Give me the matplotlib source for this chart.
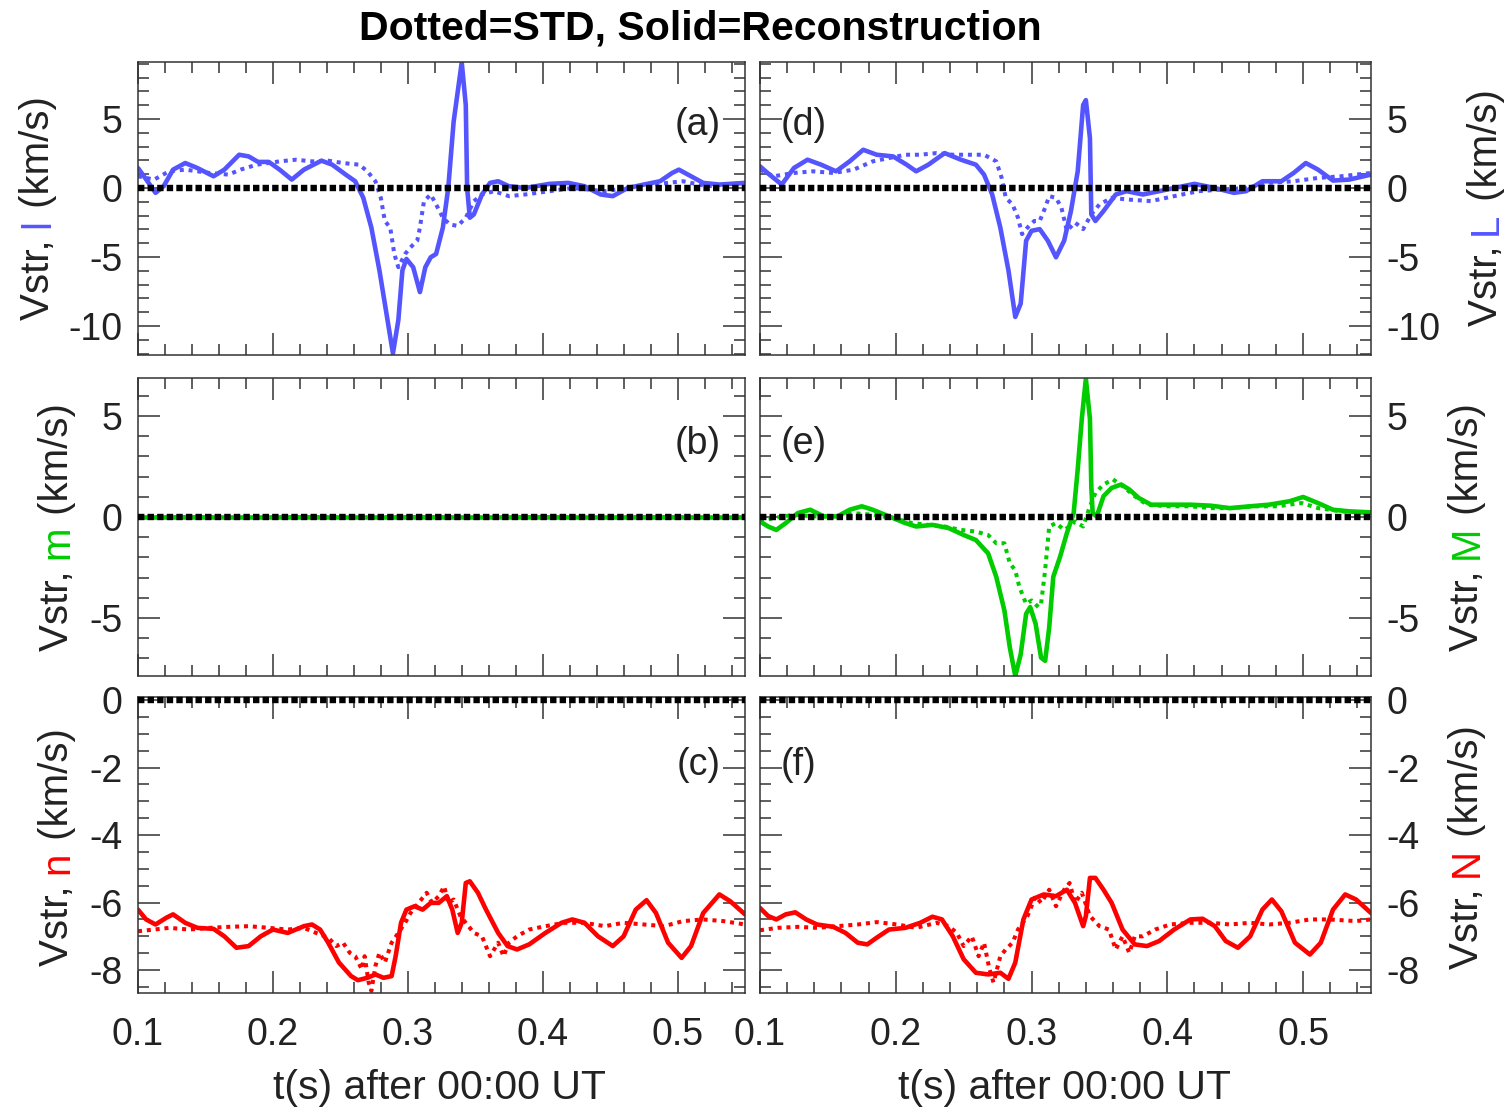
import matplotlib
matplotlib.use("Agg")
import matplotlib.pyplot as plt
from matplotlib.ticker import MultipleLocator

plt.rcParams['font.family'] = ['Liberation Sans', 'DejaVu Sans']
plt.rcParams['axes.unicode_minus'] = False

# ---------------- data ----------------
# (a) l component
t_a_sol = [.100, .107, .113, .119, .126, .135, .144, .156, .164, .175, .182, .189, .197, .205, .214, .223,
           .236, .244, .254, .261, .267, .273, .279, .285, .289, .293, .296, .299, .304, .309, .313, .317,
           .321, .326, .330, .334, .340, .343, .344, .346, .349, .355, .361, .367, .375, .387, .405, .419,
           .431, .443, .452, .463, .475, .487, .496, .501, .510, .519, .531, .550]
v_a_sol = [1.45, 0.49, -0.35, 0.13, 1.33, 1.81, 1.45, 0.85, 1.33, 2.41, 2.29, 1.89, 1.89, 1.33, 0.61, 1.33,
           1.98, 1.69, 0.97, 0.49, -0.71, -2.87, -5.98, -9.58, -11.98, -9.58, -5.98, -5.14, -5.74, -7.54, -5.74, -5.02,
           -4.78, -2.87, 0.0, 4.81, 9.1, 6.01, 0.0, -2.15, -1.91, -0.47, 0.37, 0.49, 0.13, 0.0, 0.30, 0.37,
           0.13, -0.47, -0.59, 0.0, 0.25, 0.49, 1.09, 1.33, 0.85, 0.37, 0.25, 0.37]
t_a_std = [.100, .112, .123, .135, .153, .167, .176, .188, .205, .217, .229, .241, .252, .264, .270, .276,
           .280, .283, .287, .290, .293, .298, .302, .307, .309, .312, .317, .321, .326, .331, .337, .343,
           .349, .355, .364, .375, .387, .405, .422, .446, .463, .481, .504, .522, .550]
v_a_std = [0.85, 0.61, 1.21, 1.33, 1.09, 0.97, 1.33, 1.69, 1.93, 2.05, 1.93, 1.98, 1.81, 1.69, 1.21, 0.49,
           -0.71, -2.39, -2.87, -4.78, -5.74, -4.78, -4.30, -3.82, -2.87, -0.95, -0.47, -1.19, -2.15, -2.63, -2.75, -2.15,
           -0.95, -0.47, -0.23, -0.59, -0.47, -0.23, 0.0, -0.23, 0.0, 0.25, 0.49, 0.13, 0.37]

# (d) L component
t_d_sol = [.100, .107, .116, .125, .135, .145, .156, .166, .176, .186, .198, .208, .215, .224, .236, .248,
           .259, .265, .271, .277, .283, .288, .292, .296, .300, .306, .312, .318, .324, .329, .334, .338,
           .340, .343, .344, .347, .353, .362, .370, .382, .394, .405, .420, .435, .449, .458, .470, .484,
           .493, .502, .511, .522, .534, .550]
v_d_sol = [1.57, 0.97, 0.25, 1.45, 2.05, 1.69, 1.21, 1.93, 2.77, 2.41, 2.29, 1.69, 1.21, 1.69, 2.53, 2.05,
           1.69, 0.97, -0.47, -2.87, -5.98, -9.34, -8.38, -3.82, -3.10, -2.98, -3.82, -5.02, -3.82, -1.67, 1.21, 6.01,
           6.37, 3.61, -1.91, -2.39, -1.67, -0.47, -0.23, -0.47, -0.23, 0.0, 0.30, 0.0, -0.35, -0.23, 0.49, 0.49,
           1.09, 1.81, 1.33, 0.54, 0.61, 0.97]
t_d_std = [.100, .110, .125, .139, .154, .169, .183, .195, .207, .218, .230, .242, .253, .265, .274, .278,
           .281, .286, .290, .293, .297, .302, .306, .310, .313, .318, .322, .326, .332, .338, .344, .350,
           .359, .370, .388, .405, .423, .440, .458, .475, .493, .511, .528, .550]
v_d_std = [1.33, 0.85, 1.09, 1.21, 1.09, 1.33, 1.93, 2.17, 2.41, 2.41, 2.53, 2.41, 2.41, 2.41, 1.93, 0.73,
           -0.71, -1.19, -2.15, -3.34, -2.87, -2.39, -2.39, -1.43, -0.59, -0.71, -1.43, -3.10, -2.50, -2.98, -1.91, -1.19,
           -0.71, -0.83, -0.95, -0.59, -0.23, -0.11, 0.0, 0.37, 0.49, 0.73, 0.85, 1.09]

# (b) m component (zero)
t_b = [0.10, 0.55]
v_b = [0.0, 0.0]

# (e) M component
t_e_sol = [.100, .106, .112, .119, .128, .137, .147, .157, .166, .175, .183, .195, .207, .215, .227, .239,
           .250, .259, .268, .274, .280, .284, .288, .292, .296, .299, .303, .307, .310, .313, .316, .321,
           .326, .331, .334, .337, .340, .343, .344, .345, .348, .353, .359, .366, .372, .379, .388, .402,
           .417, .432, .446, .461, .475, .490, .500, .511, .522, .534, .550]
v_e_sol = [-0.22, -0.47, -0.64, -0.30, 0.20, 0.36, 0.03, 0.03, 0.36, 0.53, 0.36, 0.03, -0.30, -0.47, -0.39, -0.55,
           -0.89, -1.14, -1.80, -2.96, -4.63, -6.46, -7.87, -6.80, -4.79, -4.46, -5.29, -6.96, -7.12, -5.46, -2.96, -1.97,
           -0.80, 0.19, 2.36, 4.85, 6.85, 4.85, 1.52, 0.19, 0.03, 1.03, 1.44, 1.61, 1.36, 0.94, 0.61, 0.61,
           0.61, 0.56, 0.44, 0.53, 0.61, 0.78, 0.99, 0.69, 0.36, 0.28, 0.23]
t_e_std = [.100, .110, .125, .139, .154, .169, .183, .198, .212, .224, .236, .248, .259, .268, .274, .280,
           .284, .288, .291, .296, .300, .305, .307, .310, .313, .318, .324, .328, .332, .338, .343, .347,
           .353, .360, .367, .376, .385, .400, .417, .432, .446, .464, .481, .499, .511, .528, .550]
v_e_std = [-0.22, -0.05, 0.11, 0.03, 0.03, 0.19, 0.11, -0.05, -0.30, -0.39, -0.47, -0.64, -0.72, -0.89, -1.30, -1.30,
           -2.30, -2.63, -3.46, -4.30, -4.13, -4.46, -4.30, -2.63, -0.47, -0.30, -0.64, -0.47, -0.22, -0.47, 0.53, 1.19,
           1.61, 1.86, 1.53, 1.03, 0.61, 0.53, 0.53, 0.44, 0.44, 0.53, 0.53, 0.69, 0.44, 0.28, 0.19]

# (c) n component
t_c_sol = [.100, .106, .113, .121, .126, .135, .144, .156, .164, .173, .182, .191, .200, .211, .223, .229,
           .235, .241, .249, .258, .263, .270, .276, .282, .288, .291, .295, .299, .305, .311, .317, .323,
           .329, .333, .337, .340, .343, .346, .352, .358, .367, .374, .381, .390, .402, .414, .422, .431,
           .441, .452, .460, .469, .477, .484, .493, .503, .510, .519, .531, .539, .550]
v_c_sol = [-6.21, -6.50, -6.65, -6.45, -6.35, -6.60, -6.75, -6.78, -7.00, -7.34, -7.29, -7.00, -6.80, -6.90, -6.70, -6.65,
           -6.80, -7.19, -7.78, -8.18, -8.30, -8.23, -8.13, -8.23, -8.18, -7.59, -6.60, -6.21, -6.11, -6.21, -6.01, -6.01,
           -5.81, -6.21, -6.90, -6.60, -5.42, -5.37, -5.71, -6.21, -6.90, -7.29, -7.39, -7.24, -6.90, -6.60, -6.50, -6.60,
           -7.00, -7.29, -7.00, -6.21, -5.93, -6.31, -7.19, -7.64, -7.29, -6.31, -5.76, -5.96, -6.35]
t_c_std = [.100, .112, .123, .138, .153, .167, .182, .197, .211, .223, .232, .241, .247, .252, .257, .261,
           .266, .268, .271, .273, .276, .279, .283, .288, .293, .298, .302, .308, .314, .318, .323, .327,
           .330, .334, .339, .343, .349, .355, .361, .367, .371, .375, .381, .390, .402, .416, .431, .446,
           .460, .475, .490, .504, .519, .534, .550]
v_c_std = [-6.85, -6.80, -6.75, -6.80, -6.75, -6.72, -6.70, -6.75, -6.80, -6.75, -6.90, -7.04, -7.29, -7.19, -7.49, -7.59,
           -7.98, -7.59, -8.37, -8.62, -7.88, -7.49, -7.78, -7.19, -6.90, -6.60, -6.31, -6.01, -5.71, -6.01, -5.81, -5.52,
           -6.01, -5.91, -6.40, -6.60, -6.90, -7.00, -7.59, -7.19, -7.59, -7.19, -7.00, -6.80, -6.70, -6.60, -6.60, -6.70,
           -6.60, -6.65, -6.70, -6.55, -6.50, -6.55, -6.65]

# (f) N component
t_f_sol = [.100, .106, .112, .119, .126, .134, .142, .154, .163, .172, .179, .186, .195, .207, .218, .227,
           .234, .242, .250, .259, .268, .277, .283, .288, .294, .300, .309, .318, .326, .332, .338, .340,
           .343, .347, .353, .359, .367, .376, .385, .394, .405, .417, .426, .435, .443, .452, .461, .470,
           .477, .484, .494, .505, .513, .522, .531, .539, .550]
v_f_sol = [-6.16, -6.40, -6.50, -6.35, -6.29, -6.50, -6.65, -6.72, -6.90, -7.19, -7.24, -7.04, -6.80, -6.75, -6.60, -6.42,
           -6.50, -7.00, -7.68, -8.08, -8.13, -8.08, -8.26, -7.78, -6.50, -5.91, -5.76, -5.81, -5.62, -6.01, -6.70, -6.40,
           -5.27, -5.27, -5.62, -6.01, -6.80, -7.24, -7.29, -7.14, -6.80, -6.50, -6.48, -6.70, -7.14, -7.34, -7.00, -6.21,
           -5.91, -6.26, -7.19, -7.54, -7.19, -6.21, -5.76, -5.91, -6.31]
t_f_std = [.100, .113, .128, .142, .157, .172, .186, .201, .215, .230, .239, .245, .250, .256, .261, .265,
           .269, .272, .277, .281, .286, .290, .297, .303, .307, .313, .318, .324, .328, .332, .337, .343,
           .350, .357, .362, .367, .372, .376, .382, .391, .402, .417, .432, .446, .461, .475, .490, .505,
           .519, .539, .550]
v_f_std = [-6.82, -6.75, -6.72, -6.75, -6.70, -6.65, -6.58, -6.65, -6.75, -6.60, -6.70, -6.90, -7.29, -7.00, -7.59, -7.19,
           -7.98, -8.37, -7.59, -7.39, -7.19, -6.80, -6.40, -5.81, -6.01, -5.62, -6.11, -5.62, -5.42, -6.01, -5.71, -6.40,
           -6.70, -6.80, -7.39, -7.00, -7.49, -7.00, -7.00, -6.80, -6.65, -6.60, -6.60, -6.65, -6.60, -6.65, -6.60, -6.50,
           -6.50, -6.55, -6.50]

BLUE = '#5555ff'
GREEN = '#00cc00'
RED = '#ff0000'
DARK = '#222222'

W, H = 1507, 1112
fig = plt.figure(figsize=(W / 100, H / 100), dpi=100)


def px_axes(x0, y0, x1, y1):
    return fig.add_axes([x0 / W, 1 - y1 / H, (x1 - x0) / W, (y1 - y0) / H])


rows = [(62, 355), (378, 676), (697, 993)]
cols = [(138, 745), (760, 1371)]

panels = [
    # (row, col, tsol, vsol, tstd, vstd, color, tag)
    (0, 0, t_a_sol, v_a_sol, t_a_std, v_a_std, BLUE, '(a)'),
    (1, 0, t_b, v_b, t_b, v_b, GREEN, '(b)'),
    (2, 0, t_c_sol, v_c_sol, t_c_std, v_c_std, RED, '(c)'),
    (0, 1, t_d_sol, v_d_sol, t_d_std, v_d_std, BLUE, '(d)'),
    (1, 1, t_e_sol, v_e_sol, t_e_std, v_e_std, GREEN, '(e)'),
    (2, 1, t_f_sol, v_f_sol, t_f_std, v_f_std, RED, '(f)'),
]
ylims = [(-12.1, 9.13), (-7.87, 6.88), (-8.68, 0.09)]
ymajor = [5, 5, 2]
yminor = [1, 1, 0.5]
tagy = [0.785, 0.78, 0.77]

for r, c, ts, vs, td, vd, col, tag in panels:
    ax = px_axes(cols[c][0], rows[r][0], cols[c][1], rows[r][1])
    ax.plot(td, vd, color=col, lw=2.9, linestyle=(0, (1, 1.2)), dash_capstyle='butt')
    ax.plot(ts, vs, color=col, lw=3.3, solid_joinstyle='round', solid_capstyle='round')
    ax.plot([0.1, 0.55], [0, 0], color='black', lw=4.6, linestyle=(0, (1, 0.5)),
            dash_capstyle='butt', clip_on=False, zorder=5)
    ax.set_xlim(0.1, 0.55)
    ax.set_ylim(*ylims[r])
    ax.xaxis.set_major_locator(MultipleLocator(0.1))
    ax.xaxis.set_minor_locator(MultipleLocator(0.02))
    ax.yaxis.set_major_locator(MultipleLocator(ymajor[r]))
    ax.yaxis.set_minor_locator(MultipleLocator(yminor[r]))
    ax.tick_params(which='both', direction='in', top=True, bottom=True, left=True, right=True,
                   width=1.1, color='#333333', labelsize=27, labelcolor=DARK)
    ax.tick_params(which='major', length=16)
    ax.tick_params(which='minor', length=8)
    ax.tick_params(axis='x', pad=17)
    ax.tick_params(axis='y', pad=11)
    if c == 1:
        ax.tick_params(axis='y', labelleft=False, labelright=True)
    if r < 2:
        ax.tick_params(axis='x', labelbottom=False)
    else:
        ax.set_xticks([0.1, 0.2, 0.3, 0.4, 0.5])
    for s in ax.spines.values():
        s.set_color('#333333')
        s.set_linewidth(1.1)
    if c == 0:
        ax.text(0.96, tagy[r], tag, transform=ax.transAxes, ha='right', va='center', fontsize=27, color=DARK)
    else:
        ax.text(0.033, tagy[r], tag, transform=ax.transAxes, ha='left', va='center', fontsize=27, color=DARK)

fig.text(700 / W, 1 - 28 / H, 'Dotted=STD, Solid=Reconstruction', ha='center', va='center',
         fontsize=29.5, fontweight='bold', family=['Liberation Sans Narrow', 'Liberation Sans'])
fig.text(440 / W, 1 - 1088 / H, 't(s) after 00:00 UT', ha='center', va='center', fontsize=29.5, color=DARK)
fig.text(1065 / W, 1 - 1088 / H, 't(s) after 00:00 UT', ha='center', va='center', fontsize=29.5, color=DARK)

# multi-coloured rotated y labels
renderer = fig.canvas.get_renderer()


def color_label(xb, yc, parts):
    texts = []
    for s, colr in parts:
        t = fig.text(0, 0, s, color=colr, fontsize=29, rotation=90, rotation_mode='anchor',
                     ha='left', va='baseline')
        texts.append(t)
    lens = [t.get_window_extent(renderer).height for t in texts]
    y = (H - yc) - sum(lens) / 2
    for t, L in zip(texts, lens):
        t.set_position((xb / W, y / H))
        y += L


labels = [
    (49, 208, [('Vstr, ', DARK), ('l', BLUE), (' (km/s)', DARK)]),
    (68, 527, [('Vstr, ', DARK), ('m', GREEN), (' (km/s)', DARK)]),
    (68, 847, [('Vstr, ', DARK), ('n', RED), (' (km/s)', DARK)]),
    (1497, 208, [('Vstr, ', DARK), ('L', BLUE), (' (km/s)', DARK)]),
    (1478, 527, [('Vstr, ', DARK), ('M', GREEN), (' (km/s)', DARK)]),
    (1478, 847, [('Vstr, ', DARK), ('N', RED), (' (km/s)', DARK)]),
]
for xb, yc, parts in labels:
    color_label(xb, yc, parts)

fig.savefig('out.png', dpi=100)
